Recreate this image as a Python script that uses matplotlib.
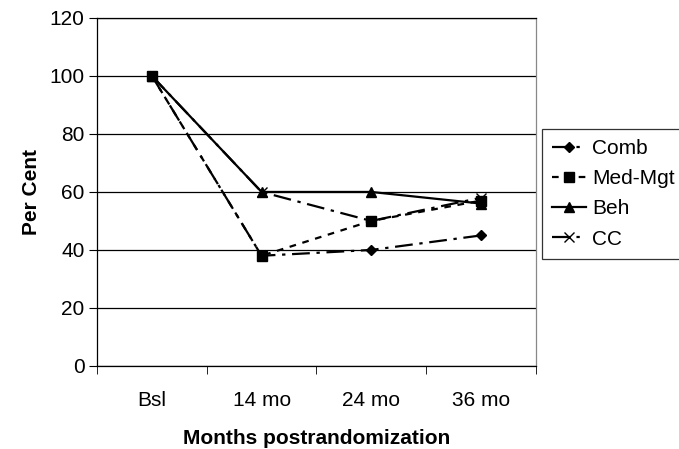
import matplotlib.pyplot as plt

plt.rcParams['font.family'] = ['Liberation Sans', 'DejaVu Sans']

# Data
periods = ['Bsl', '14 mo', '24 mo', '36 mo']
comb = [100, 38, 40, 45]
med_mgt = [100, 38, 50, 57]
beh = [100, 60, 60, 56]
cc = [100, 60, 50, 58]

fig = plt.figure(figsize=(6.79, 4.49), dpi=100)
ax = fig.add_axes([0.143, 0.185, 0.646, 0.775])

x = range(len(periods))
ax.plot(x, comb, color='black', linestyle=(0, (8, 3, 1.5, 3)), linewidth=1.6,
        marker='D', markersize=5, label='Comb')
ax.plot(x, cc, color='black', linestyle=(0, (8, 3, 1.5, 3)), linewidth=1.6,
        marker='x', markersize=7, markeredgewidth=1, label='CC')
ax.plot(x, med_mgt, color='black', linestyle=(0, (3, 3)), linewidth=1.6,
        marker='s', markersize=7, label='Med-Mgt')
ax.plot(x, beh, color='black', linestyle='-', linewidth=1.6,
        marker='^', markersize=7, label='Beh')

ax.set_xlim(-0.5, 3.5)
ax.set_ylim(0, 120)
ax.set_yticks(range(0, 121, 20))
ax.set_xticks(list(x))
ax.set_xticklabels(periods)
ax.set_xticks([-0.5, 0.5, 1.5, 2.5, 3.5], minor=True)
ax.tick_params(axis='x', which='major', length=0, pad=18, labelsize=15)
ax.tick_params(axis='x', which='minor', length=6, direction='out')
ax.tick_params(axis='y', length=6, direction='out', labelsize=15, pad=3)
ax.grid(True, axis='y', color='black', linewidth=0.9)
ax.set_axisbelow(True)
for s in ax.spines.values():
    s.set_color('black')
    s.set_linewidth(0.9)
ax.spines['right'].set_color('#888888')

ax.set_xlabel('Months postrandomization', fontsize=15, fontweight='bold', labelpad=14)
ax.set_ylabel('Per Cent', fontsize=15, fontweight='bold', labelpad=6)

handles, labels = ax.get_legend_handles_labels()
order = [labels.index(n) for n in ['Comb', 'Med-Mgt', 'Beh', 'CC']]
leg = fig.legend([handles[i] for i in order], [labels[i] for i in order],
                 loc='upper left', bbox_to_anchor=(542 / 679, 1 - 129 / 449),
                 fontsize=15, frameon=True, fancybox=False, handlelength=1.6,
                 handletextpad=0.3, borderpad=0.5, labelspacing=0.53,
                 borderaxespad=0)
leg.get_frame().set_edgecolor('black')
leg.get_frame().set_linewidth(0.9)

plt.savefig('out.png', dpi=100)
